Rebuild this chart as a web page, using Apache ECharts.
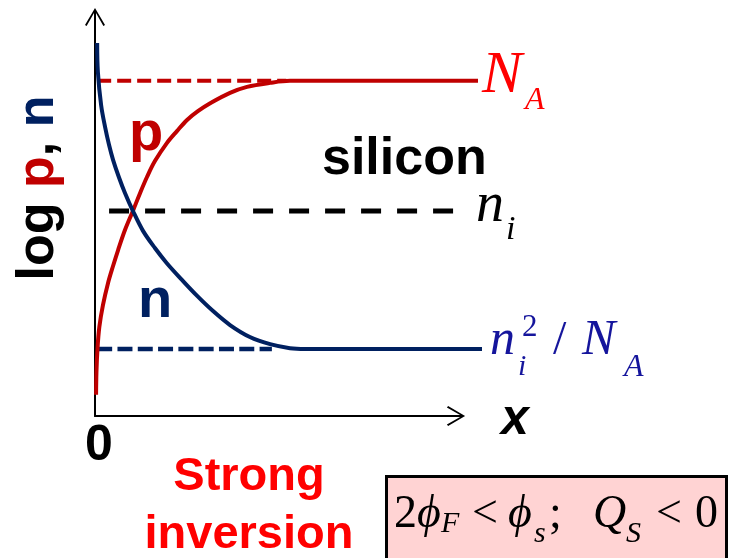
<!DOCTYPE html>
<html>
<head>
<meta charset="utf-8">
<title>log p, n — strong inversion</title>
<script src="https://cdn.jsdelivr.net/npm/echarts@6/dist/echarts.min.js"></script>
<style>
  html, body { margin: 0; padding: 0; background: #fff; }
  #chart { width: 730px; height: 558px; }
</style>
</head>
<body>
<div id="chart"></div>
<script>
// Depth into the silicon (arbitrary units) and log carrier density (arbitrary units)
const pX   = [0.03, 0.04, 0.07, 0.12, 0.22, 0.36, 0.50, 0.64, 0.83, 1.05, 1.25, 1.44, 1.66,
              1.99, 2.27, 2.55, 2.85, 3.19, 3.74, 4.21, 4.85, 5.40, 10.61];
const pLog = [0.53, 1.10, 1.70, 2.23, 2.78, 3.33, 3.76, 4.16, 4.66, 5.14, 5.59, 5.99, 6.39,
              6.84, 7.14, 7.42, 7.64, 7.84, 8.10, 8.25, 8.35, 8.40, 8.40];

const nX   = [0.06, 0.08, 0.17, 0.28, 0.39, 0.50, 0.66, 0.83, 1.05, 1.33, 1.66, 1.99, 2.41,
              2.83, 3.27, 3.74, 4.29, 4.85, 5.40, 5.82, 10.72];
const nLog = [9.35, 8.62, 7.79, 7.24, 6.79, 6.42, 5.99, 5.59, 5.14, 4.64, 4.21, 3.83, 3.41,
              3.01, 2.63, 2.28, 1.98, 1.80, 1.70, 1.68, 1.68];

// Reference levels: N_A, n_i, n_i^2/N_A
const levelLog   = [8.40, 5.14, 1.68];
const guideStart = [0.06, 0.39, 0.06];
const guideEnd   = [5.30, 10.36, 4.90];

const RED = '#C00000', NAVY = '#002060', BLUE = '#15159C';
const SANS = '"Liberation Sans", Arial, sans-serif';
const SERIF = '"Liberation Serif", "Times New Roman", serif';

const zip = (xs, ys) => xs.map((x, i) => [x, ys[i]]);
const guide = i => [[guideStart[i], levelLog[i]], [guideEnd[i], levelLog[i]]];

// open chevron arrow head with its shaft, pointing up
const arrowPath = 'path://M10,0 L20,17 L18.4,18.2 L11,5 L11,18.2 L9,18.2 L9,5 L1.6,18.2 L0,17 Z';

const axisLine = {
  show: true,
  onZero: false,
  symbol: ['none', arrowPath],
  symbolSize: [20, 18.2],
  lineStyle: { color: '#000', width: 2 }
};
const hidden = { show: false };

// Plot frame: the drawn axes stop at the arrow heads, the data area runs a bit further right
const PX_PER_X = 36.1;
const AXIS_X_MAX = 10, DATA_X_MAX = 11;

const chart = echarts.init(document.getElementById('chart'), null, { renderer: 'canvas' });

chart.setOption({
  animation: false,
  backgroundColor: '#fff',
  grid: [
    { left: 95, top: 17, width: PX_PER_X * AXIS_X_MAX, height: 399 },
    { left: 95, top: 17, width: PX_PER_X * DATA_X_MAX, height: 399 }
  ],
  xAxis: [
    {
      gridIndex: 0, type: 'value', min: 0, max: AXIS_X_MAX, interval: AXIS_X_MAX,
      axisLine: axisLine,
      axisTick: hidden,
      splitLine: hidden,
      axisLabel: {
        formatter: v => (v === 0 ? '0' : ''),
        margin: 5,
        padding: [0, 0, 0, 8],
        fontSize: 50, fontWeight: 'bold', fontFamily: SANS, color: '#000'
      }
    },
    { gridIndex: 1, type: 'value', min: 0, max: DATA_X_MAX, show: false }
  ],
  yAxis: [
    {
      gridIndex: 0, type: 'value', min: 0, max: 10,
      axisLine: axisLine,
      axisTick: hidden,
      splitLine: hidden,
      axisLabel: hidden
    },
    { gridIndex: 1, type: 'value', min: 0, max: 10, show: false }
  ],
  series: [
    { type: 'line', xAxisIndex: 1, yAxisIndex: 1, data: guide(0), symbol: 'none', silent: true,
      lineStyle: { color: RED, width: 4, type: [14, 6] } },
    { type: 'line', xAxisIndex: 1, yAxisIndex: 1, data: guide(1), symbol: 'none', silent: true,
      lineStyle: { color: '#000', width: 5, type: [20, 16] } },
    { type: 'line', xAxisIndex: 1, yAxisIndex: 1, data: guide(2), symbol: 'none', silent: true,
      lineStyle: { color: NAVY, width: 4.5, type: [15, 5.3] } },
    { type: 'line', name: 'p', xAxisIndex: 1, yAxisIndex: 1, data: zip(pX, pLog),
      symbol: 'none', smooth: 0.35, silent: true, lineStyle: { color: RED, width: 4 } },
    { type: 'line', name: 'n', xAxisIndex: 1, yAxisIndex: 1, data: zip(nX, nLog),
      symbol: 'none', smooth: 0.35, silent: true, lineStyle: { color: NAVY, width: 4 } }
  ]
});

// Text placed by its left edge and alphabetic baseline
function txt(text, left, baseline, size, o) {
  o = o || {};
  const k = o.serif === false ? 0.3465 : 0.3375;
  return {
    type: 'text', x: left, y: baseline - k * size, silent: true,
    style: {
      text: text, fontSize: size,
      fontFamily: o.serif === false ? SANS : SERIF,
      fontStyle: o.italic === false ? 'normal' : 'italic',
      fontWeight: o.bold ? 'bold' : 'normal',
      fill: o.color || '#000',
      align: 'left', verticalAlign: 'middle',
      textAlign: 'left', textVerticalAlign: 'middle'
    }
  };
}

const px = (x, y) => chart.convertToPixel({ gridIndex: 1 }, [x, y]);
const aNA = px(pX[pX.length - 1], levelLog[0]);
const aNi = px(guideEnd[1], levelLog[1]);
const aN2 = px(nX[nX.length - 1], levelLog[2]);
const axEnd = chart.convertToPixel({ gridIndex: 0 }, [AXIS_X_MAX, 0]);

const up = { italic: false };
const graphics = [
  // N_A at the end of the p curve
  txt('N', aNA[0] + 4, aNA[1] + 16, 60, { color: '#FF0000' }),
  txt('A', aNA[0] + 47, aNA[1] + 31, 32, { color: '#FF0000' }),
  // n_i at the end of the intrinsic level
  txt('n', aNi[0] + 7, aNi[1] + 14, 56),
  txt('i', aNi[0] + 37, aNi[1] + 31, 34),
  // n_i^2 / N_A at the end of the n curve
  txt('n', aN2[0] + 8, aN2[1] + 9, 50, { color: BLUE }),
  txt('i', aN2[0] + 36, aN2[1] + 28, 30, { color: BLUE }),
  txt('2', aN2[0] + 40, aN2[1] - 11, 31, { color: BLUE, italic: false }),
  txt('/', aN2[0] + 71, aN2[1] + 9, 48, { color: BLUE, italic: false }),
  txt('N', aN2[0] + 100, aN2[1] + 9, 50, { color: BLUE }),
  txt('A', aN2[0] + 142, aN2[1] + 29, 32, { color: BLUE }),

  // horizontal axis name
  txt('x', axEnd[0] + 45, axEnd[1] + 22, 50, { serif: false, bold: true }),

  // curve names and material
  txt('p', 129, 154, 56, { serif: false, italic: false, bold: true, color: RED }),
  txt('n', 138, 321, 56, { serif: false, italic: false, bold: true, color: NAVY }),
  txt('silicon', 322, 178, 52, { serif: false, italic: false, bold: true }),

  // vertical axis title
  {
    type: 'text', x: 39, y: 188, rotation: Math.PI / 2, silent: true,
    style: {
      text: '{k|log }{r|p}{k|, }{b|n}',
      fontSize: 52, fontWeight: 'bold', fontFamily: SANS, fill: '#000',
      align: 'center', verticalAlign: 'middle',
      textAlign: 'center', textVerticalAlign: 'middle',
      rich: {
        k: { fill: '#000', color: '#000', fontSize: 52, fontWeight: 'bold', fontFamily: SANS },
        r: { fill: RED, color: RED, fontSize: 52, fontWeight: 'bold', fontFamily: SANS },
        b: { fill: NAVY, color: NAVY, fontSize: 52, fontWeight: 'bold', fontFamily: SANS }
      }
    }
  },

  // regime caption
  {
    type: 'text', x: 249, y: 505.7, silent: true,
    style: {
      text: 'Strong\ninversion', fontSize: 47, fontWeight: 'bold', fontFamily: SANS,
      fill: '#FF0000', lineHeight: 58,
      align: 'center', verticalAlign: 'middle',
      textAlign: 'center', textVerticalAlign: 'middle'
    }
  },

  // condition box
  {
    type: 'rect', silent: true,
    shape: { x: 386.5, y: 476.5, width: 340, height: 100 },
    style: { fill: '#FFD3D3', stroke: '#000', lineWidth: 3 }
  },
  txt('2', 394, 530, 46, up),
  txt('\u03D5', 417, 530, 46),
  txt('F', 441, 534, 30),
  txt('<', 472, 530, 46, up),
  txt('\u03D5', 508, 530, 46),
  txt('s', 534, 544, 30),
  txt(';', 549, 530, 46, up),
  txt('Q', 593, 530, 46),
  txt('S', 626, 544, 30),
  txt('<', 656, 530, 46, up),
  txt('0', 695, 530, 46, up)
];

chart.setOption({ graphic: { elements: graphics } });
</script>
</body>
</html>
